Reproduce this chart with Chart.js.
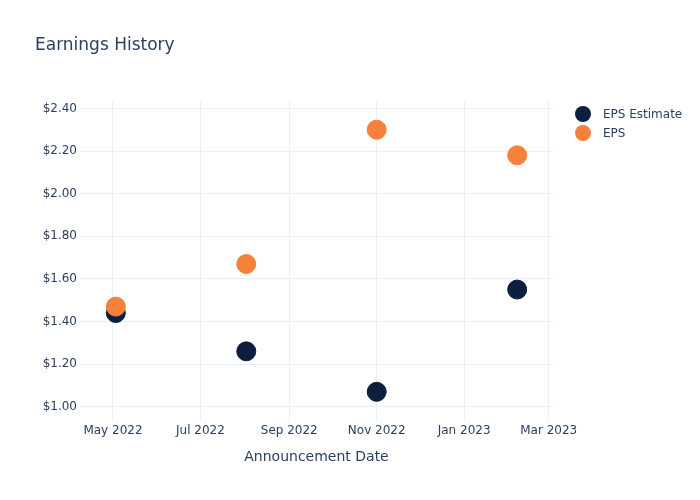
<!DOCTYPE html>
<html>
<head>
<meta charset="utf-8">
<script src="https://cdn.jsdelivr.net/npm/chart.js@4.4.1/dist/chart.umd.min.js"></script>
<style>
  html, body { margin: 0; padding: 0; background: #fff; }
  #wrap { width: 700px; height: 500px; }
</style>
</head>
<body>
<div id="wrap"><canvas id="chart" width="700" height="500"></canvas></div>
<script>
// data
const announceDates = ['2022-05-03', '2022-08-02', '2022-11-01', '2023-02-07'];
const epsEstimate = [1.44, 1.26, 1.07, 1.55];
const epsActual = [1.47, 1.67, 2.30, 2.18];

const xTickDates = ['2022-05-01', '2022-07-01', '2022-09-01', '2022-11-01', '2023-01-01', '2023-03-01'];
const xTickLabels = ['May 2022', 'Jul 2022', 'Sep 2022', 'Nov 2022', 'Jan 2023', 'Mar 2023'];
const yTickValues = [1.0, 1.2, 1.4, 1.6, 1.8, 2.0, 2.2, 2.4];

const textColor = '#2a3f5f';
const gridColor = '#ebf0f8';
const fontFamily = '"DejaVu Sans", Verdana, sans-serif';

const toTime = d => Date.parse(d + 'T00:00:00Z');

//Legend drawn at the right side, plotly style
const sideLegend = {
  id: 'sideLegend',
  afterDraw(chart) {
    const ctx = chart.ctx;
    const items = [chart.data.datasets[0], chart.data.datasets[1]];
    ctx.save();
    ctx.font = '12px ' + fontFamily;
    ctx.textBaseline = 'middle';
    items.forEach((ds, i) => {
      const y = 114 + i * 19;
      ctx.beginPath();
      ctx.arc(583, y, 8, 0, Math.PI * 2);
      ctx.fillStyle = ds.backgroundColor;
      ctx.fill();
      ctx.fillStyle = textColor;
      ctx.fillText(ds.label, 603, y + 1);
    });
    ctx.restore();
  }
};

new Chart(document.getElementById('chart'), {
  type: 'scatter',
  data: {
    datasets: [
      {
        label: 'EPS Estimate',
        data: announceDates.map((d, i) => ({ x: toTime(d), y: epsEstimate[i] })),
        backgroundColor: '#0c1f3f',
        borderColor: '#0c1f3f',
        pointRadius: 9.5,
        borderWidth: 1,
        order: 1
      },
      {
        label: 'EPS',
        data: announceDates.map((d, i) => ({ x: toTime(d), y: epsActual[i] })),
        backgroundColor: '#f5813a',
        borderColor: '#f5813a',
        pointRadius: 9.5,
        borderWidth: 1,
        order: 0
      }
    ]
  },
  options: {
    responsive: false,
    animation: false,
    layout: { padding: { left: 35, right: 147, top: 0, bottom: 34 } },
    plugins: {
      legend: { display: false },
      tooltip: { enabled: false },
      title: {
        display: true,
        text: 'Earnings History',
        align: 'start',
        color: textColor,
        font: { family: fontFamily, size: 17, weight: 'normal' },
        padding: { top: 35, bottom: 46 }
      }
    },
    scales: {
      x: {
        type: 'linear',
        min: toTime('2022-04-08'),
        max: toTime('2023-03-04'),
        afterBuildTicks: scale => {
          scale.ticks = xTickDates.map(d => ({ value: toTime(d) }));
        },
        ticks: {
          autoSkip: false,
          maxRotation: 0,
          padding: 3,
          color: textColor,
          font: { family: fontFamily, size: 12 },
          callback: (value, index) => xTickLabels[index]
        },
        grid: { color: gridColor, drawTicks: false },
        border: { display: false },
        title: {
          display: true,
          text: 'Announcement Date',
          color: textColor,
          font: { family: fontFamily, size: 14 },
          padding: { top: 8, bottom: 0 }
        }
      },
      y: {
        min: 0.934,
        max: 2.433,
        afterBuildTicks: scale => {
          scale.ticks = yTickValues.map(v => ({ value: v }));
        },
        afterFit: scale => { scale.width = 45; },
        ticks: {
          padding: 3,
          color: textColor,
          font: { family: fontFamily, size: 12 },
          callback: value => '$' + value.toFixed(2)
        },
        grid: { color: gridColor, drawTicks: false },
        border: { display: false }
      }
    }
  },
  plugins: [sideLegend]
});
</script>
</body>
</html>
